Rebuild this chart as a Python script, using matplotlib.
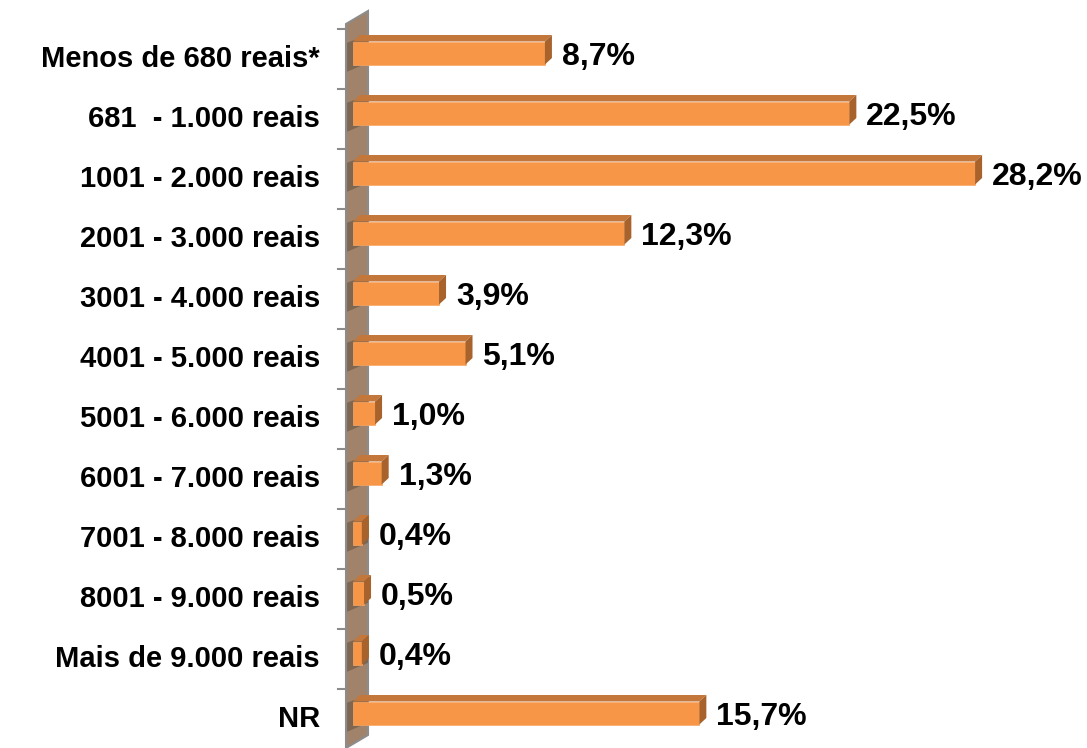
import matplotlib
matplotlib.use("Agg")
import matplotlib.pyplot as plt
from matplotlib.patches import Polygon

categories = ["Menos de 680 reais*", "681  - 1.000 reais", "1001 - 2.000 reais",
              "2001 - 3.000 reais", "3001 - 4.000 reais", "4001 - 5.000 reais",
              "5001 - 6.000 reais", "6001 - 7.000 reais", "7001 - 8.000 reais",
              "8001 - 9.000 reais", "Mais de 9.000 reais", "NR"]
values = [8.7, 22.5, 28.2, 12.3, 3.9, 5.1, 1.0, 1.3, 0.4, 0.5, 0.4, 15.7]
value_labels = ["8,7%", "22,5%", "28,2%", "12,3%", "3,9%", "5,1%", "1,0%", "1,3%",
                "0,4%", "0,5%", "0,4%", "15,7%"]

plt.rcParams['font.family'] = ['Liberation Sans', 'DejaVu Sans']

W, H = 1087, 748
fig = plt.figure(figsize=(W / 100, H / 100), dpi=100)
x0_px = 353
px_per_unit = 22.06
ax = fig.add_axes([x0_px / W, 0, 1 - x0_px / W, 1])
ax.set_xlim(0, (W - x0_px) / px_per_unit)
row_px, first_px = 60, 53
ax.set_ylim((H - first_px) / row_px, -first_px / row_px)
ax.axis('off')

def px2x(p):
    return (p - x0_px) / px_per_unit

def py2y(p):
    return (p - first_px) / row_px

bar_h = 23 / row_px
dx = 7 / px_per_unit
dy = 6.5 / row_px

front_c = '#F79646'
top_c = '#C4773B'
side_c = '#A8622B'

# wall
wl, wr = px2x(346), px2x(368)
wall = Polygon([(wl, py2y(24)), (wr, py2y(11)), (wr, py2y(735)), (wl, py2y(748))],
               closed=True, facecolor='#A0836A', edgecolor='#8C8C8C', lw=1.5,
               clip_on=False, zorder=1)
ax.add_patch(wall)
# shadows behind bars on the wall
for i in range(len(values)):
    sh = Polygon([(wl + 0.05, i - bar_h / 2 + 0.02), (wr, i - bar_h / 2 - dy),
                  (wr, i + bar_h / 2 - dy + 0.08), (wl + 0.05, i + bar_h / 2 + 0.12)],
                 closed=True, facecolor='#5E4A38', alpha=0.5, lw=0,
                 clip_on=False, zorder=1.5)
    ax.add_patch(sh)

# ticks
for i in range(len(values)):
    ax.plot([px2x(338), wl], [i - 0.4, i - 0.4], color='#8C8C8C', lw=1.5,
            clip_on=False, zorder=2)

for i, (v, lab, cat) in enumerate(zip(values, value_labels, categories)):
    top = i - bar_h / 2
    bot = i + bar_h / 2
    ax.barh(i, v, height=bar_h, left=0, color=front_c, edgecolor='#F8A868',
            lw=0.5, zorder=3)
    ax.add_patch(Polygon([(0, top), (dx, top - dy), (v + dx, top - dy), (v, top)],
                         closed=True, facecolor=top_c, lw=0, zorder=3))
    ax.add_patch(Polygon([(v, top), (v + dx, top - dy), (v + dx, bot - dy), (v, bot)],
                         closed=True, facecolor=side_c, lw=0, zorder=3))
    ax.text(v + dx + px2x(x0_px + 10), i + 0.07, lab, ha='left', va='center',
            fontsize=23, fontweight='bold', color='black', zorder=4)
    ax.text(px2x(320), i + 0.1, cat, ha='right', va='center',
            fontsize=21, fontweight='bold', color='black', clip_on=False)

fig.savefig("out.png", dpi=100)
